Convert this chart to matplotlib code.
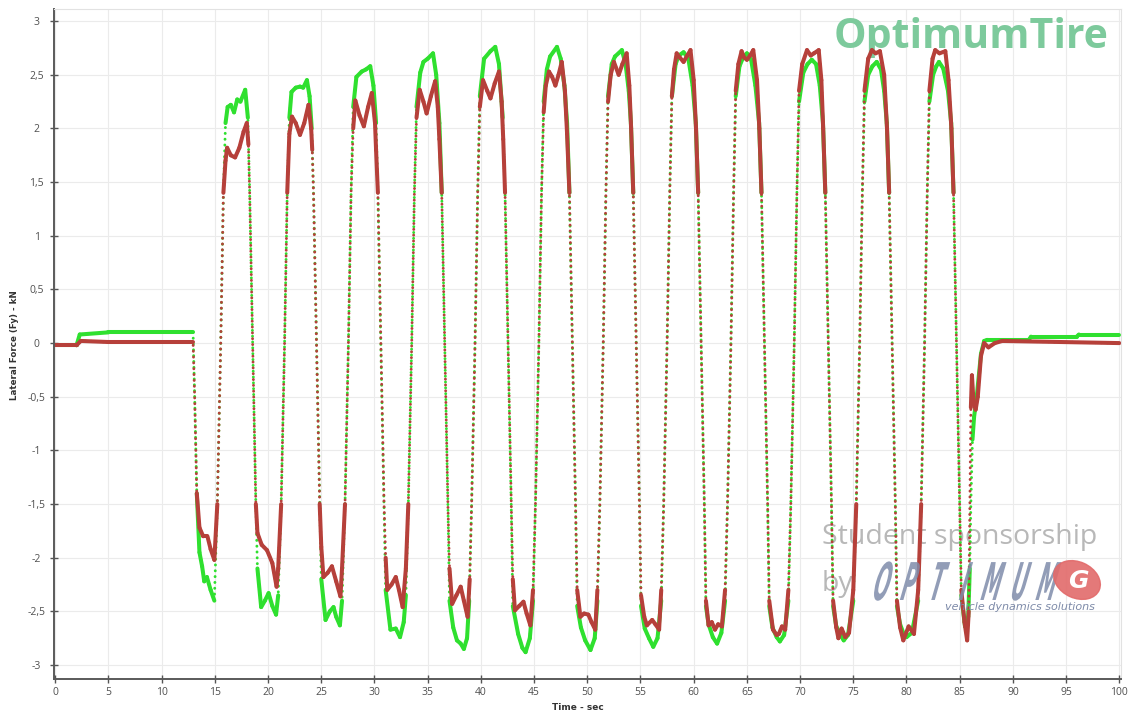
import numpy as np
import matplotlib
matplotlib.use("Agg")
import matplotlib.pyplot as plt
from matplotlib.collections import LineCollection
from matplotlib.patches import Ellipse, PathPatch
from matplotlib.textpath import TextPath
from matplotlib.font_manager import FontProperties
from matplotlib.transforms import Affine2D, IdentityTransform

# lateral force (time in s, force in kN)
green_t = [0, 2.0, 2.3, 5.0, 12.95, 13.1, 13.3,
           13.55, 13.8, 14.0, 14.25, 14.6, 14.95, 15.23, 15.55, 15.8,
           16.0, 16.2, 16.5, 16.8, 17.1, 17.4, 17.85, 18.1, 18.27, 18.55, 18.85,
           19.0, 19.35, 19.7, 20.05, 20.4, 20.75, 20.95, 21.23, 21.55, 21.8,
           22.0, 22.2, 22.6, 23.0, 23.3, 23.65, 23.9, 24.1, 24.27, 24.55, 24.85,
           25.0, 25.4, 25.8, 26.15, 26.4, 26.75, 26.95, 27.23, 27.55, 27.8,
           28.0, 28.3, 28.8, 29.2, 29.6, 29.9, 30.15, 30.32, 30.6, 30.9,
           31.05, 31.5, 32.0, 32.4, 32.75, 32.95, 33.18, 33.5, 33.75,
           33.95, 34.3, 34.6, 35.0, 35.5, 35.8, 36.1, 36.32, 36.6, 36.9,
           37.05, 37.4, 37.75, 38.1, 38.4, 38.7, 38.9, 39.13, 39.45, 39.7,
           39.9, 40.3, 40.9, 41.35, 41.7, 42.05, 42.27, 42.55, 42.85,
           43.0, 43.5, 43.9, 44.2, 44.6, 44.9, 45.13, 45.45, 45.7,
           45.9, 46.2, 46.5, 47.15, 47.5, 47.85, 48.1, 48.32, 48.6, 48.9,
           49.05, 49.4, 49.8, 50.3, 50.7, 50.95, 51.18, 51.5, 51.75,
           51.95, 52.3, 52.6, 53.25, 53.6, 53.9, 54.1, 54.32, 54.6, 54.9,
           55.05, 55.4, 55.8, 56.2, 56.6, 56.95, 57.18, 57.5, 57.75,
           57.95, 58.3, 58.6, 59.05, 59.5, 59.9, 60.2, 60.42, 60.7, 61.0,
           61.15, 61.4, 61.8, 62.2, 62.6, 62.95, 63.18, 63.5, 63.75,
           63.95, 64.3, 64.6, 65.0, 65.4, 65.8, 66.15, 66.37, 66.65, 66.95,
           67.1, 67.4, 67.8, 68.1, 68.5, 68.9, 69.13, 69.45, 69.7,
           69.9, 70.3, 70.7, 71.1, 71.5, 71.85, 72.15, 72.37, 72.65, 72.95,
           73.1, 73.4, 73.8, 74.1, 74.5, 75.0, 75.28, 75.6, 75.85,
           76.05, 76.4, 76.8, 77.2, 77.6, 77.9, 78.15, 78.37, 78.65, 78.95,
           79.1, 79.4, 79.7, 80.0, 80.5, 81.1, 81.38, 81.7, 81.95,
           82.15, 82.5, 82.8, 83.05, 83.45, 83.9, 84.2, 84.42, 84.7, 85.0,
           85.15, 85.5, 85.8, 85.95, 86.05, 86.2, 86.35, 86.6, 87.0, 87.3, 87.6,
           91.5, 91.7, 96.0, 96.2, 100]
green_f = [-0.02, -0.02, 0.08, 0.10, 0.10, -0.5, -1.4,
           -1.95, -2.08, -2.22, -2.18, -2.30, -2.40, -1.5, 0.0, 1.4,
           2.05, 2.2, 2.22, 2.15, 2.27, 2.25, 2.36, 2.1, 1.4, 0.0, -1.5,
           -2.1, -2.46, -2.40, -2.33, -2.45, -2.53, -2.35, -1.5, 0.0, 1.4,
           2.1, 2.34, 2.38, 2.39, 2.38, 2.45, 2.3, 2.0, 1.4, 0.0, -1.5,
           -2.2, -2.58, -2.50, -2.46, -2.55, -2.63, -2.4, -1.5, 0.0, 1.4,
           2.2, 2.48, 2.53, 2.55, 2.58, 2.4, 2.05, 1.4, 0.0, -1.5,
           -2.3, -2.67, -2.66, -2.74, -2.6, -2.35, -1.5, 0.0, 1.4,
           2.2, 2.52, 2.62, 2.65, 2.70, 2.5, 2.05, 1.4, 0.0, -1.5,
           -2.4, -2.65, -2.77, -2.80, -2.85, -2.75, -2.4, -1.5, 0.0, 1.4,
           2.3, 2.65, 2.72, 2.76, 2.6, 2.1, 1.4, 0.0, -1.5,
           -2.45, -2.71, -2.84, -2.88, -2.75, -2.4, -1.5, 0.0, 1.4,
           2.25, 2.55, 2.67, 2.76, 2.65, 2.4, 2.05, 1.4, 0.0, -1.5,
           -2.45, -2.65, -2.77, -2.86, -2.75, -2.4, -1.5, 0.0, 1.4,
           2.3, 2.6, 2.67, 2.73, 2.6, 2.35, 2.05, 1.4, 0.0, -1.5,
           -2.45, -2.66, -2.75, -2.83, -2.75, -2.4, -1.5, 0.0, 1.4,
           2.3, 2.6, 2.68, 2.71, 2.65, 2.4, 2.05, 1.4, 0.0, -1.5,
           -2.45, -2.62, -2.74, -2.80, -2.70, -2.4, -1.5, 0.0, 1.4,
           2.3, 2.58, 2.65, 2.70, 2.64, 2.4, 2.05, 1.4, 0.0, -1.5,
           -2.45, -2.65, -2.74, -2.78, -2.72, -2.4, -1.5, 0.0, 1.4,
           2.25, 2.52, 2.6, 2.64, 2.6, 2.4, 2.05, 1.4, 0.0, -1.5,
           -2.45, -2.64, -2.72, -2.77, -2.72, -2.4, -1.5, 0.0, 1.4,
           2.25, 2.5, 2.58, 2.62, 2.55, 2.35, 2.05, 1.4, 0.0, -1.5,
           -2.45, -2.62, -2.7, -2.74, -2.7, -2.4, -1.5, 0.0, 1.4,
           2.25, 2.5, 2.58, 2.62, 2.56, 2.35, 2.05, 1.4, 0.0, -1.5,
           -2.35, -2.64, -2.55, -2.1, -1.5, -0.9, -0.69, -0.5, -0.1, 0.02, 0.03,
           0.03, 0.06, 0.06, 0.08, 0.08]

red_t = [0, 2.0, 2.4, 5.0, 12.95, 13.1, 13.3,
         13.55, 13.9, 14.3, 14.6, 14.95, 15.23, 15.55, 15.8,
         16.0, 16.15, 16.5, 16.9, 17.3, 17.7, 18.0, 18.15, 18.27, 18.55, 18.85,
         19.0, 19.4, 19.9, 20.4, 20.8, 20.95, 21.23, 21.55, 21.8,
         22.0, 22.25, 22.6, 23.0, 23.4, 23.8, 24.05, 24.15, 24.27, 24.55, 24.85,
         25.0, 25.2, 25.6, 26.0, 26.4, 26.8, 26.95, 27.23, 27.55, 27.8,
         28.0, 28.2, 28.6, 29.0, 29.4, 29.75, 30.05, 30.15, 30.32, 30.6, 30.9,
         31.05, 31.2, 31.6, 32.0, 32.3, 32.65, 32.95, 33.18, 33.5, 33.75,
         33.95, 34.25, 34.6, 34.9, 35.3, 35.7, 35.95, 36.1, 36.32, 36.6, 36.9,
         37.05, 37.3, 37.7, 38.1, 38.4, 38.75, 38.95, 39.13, 39.45, 39.7,
         39.9, 40.2, 40.6, 40.9, 41.3, 41.7, 41.95, 42.1, 42.27, 42.55, 42.85,
         43.0, 43.2, 43.6, 44.0, 44.3, 44.65, 44.9, 45.13, 45.45, 45.7,
         45.9, 46.1, 46.4, 46.7, 47.0, 47.3, 47.6, 47.9, 48.1, 48.32, 48.6, 48.9,
         49.05, 49.35, 49.7, 50.1, 50.4, 50.75, 50.95, 51.18, 51.5, 51.75,
         51.95, 52.2, 52.5, 52.95, 53.3, 53.7, 53.95, 54.12, 54.32, 54.6, 54.9,
         55.05, 55.35, 55.6, 56.1, 56.4, 56.75, 56.95, 57.18, 57.5, 57.75,
         57.95, 58.15, 58.4, 58.7, 59.05, 59.4, 59.7, 60.0, 60.22, 60.42, 60.7, 61.0,
         61.15, 61.4, 61.7, 62.0, 62.3, 62.65, 62.95, 63.18, 63.5, 63.75,
         63.95, 64.2, 64.5, 64.75, 65.0, 65.3, 65.6, 65.95, 66.17, 66.37, 66.65, 66.95,
         67.1, 67.45, 67.8, 68.0, 68.3, 68.6, 68.9, 69.13, 69.45, 69.7,
         69.9, 70.2, 70.65, 71.0, 71.3, 71.75, 72.0, 72.17, 72.37, 72.65, 72.95,
         73.1, 73.4, 73.6, 73.9, 74.25, 74.6, 75.0, 75.28, 75.6, 75.85,
         76.05, 76.4, 76.75, 77.1, 77.5, 77.9, 78.17, 78.37, 78.65, 78.95,
         79.1, 79.4, 79.7, 80.2, 80.7, 81.1, 81.38, 81.7, 81.95,
         82.15, 82.45, 82.7, 83.1, 83.65, 83.95, 84.22, 84.42, 84.7, 85.0,
         85.15, 85.45, 85.7, 85.85, 85.95, 86.05, 86.15, 86.3, 86.5, 86.7, 87.0,
         87.3, 87.7, 88.3, 89.0, 100]
red_f = [-0.02, -0.02, 0.02, 0.01, 0.01, -0.5, -1.4,
         -1.72, -1.80, -1.80, -1.92, -2.02, -1.5, 0.0, 1.4,
         1.7, 1.82, 1.75, 1.73, 1.82, 1.97, 2.05, 1.85, 1.4, 0.0, -1.5,
         -1.77, -1.88, -1.93, -2.05, -2.27, -2.1, -1.5, 0.0, 1.4,
         1.95, 2.11, 2.05, 1.94, 2.05, 2.22, 2.0, 1.8, 1.4, 0.0, -1.5,
         -1.9, -2.18, -2.14, -2.08, -2.22, -2.36, -2.1, -1.5, 0.0, 1.4,
         2.0, 2.26, 2.12, 2.02, 2.2, 2.33, 2.05, 1.8, 1.4, 0.0, -1.5,
         -2.0, -2.30, -2.25, -2.18, -2.30, -2.46, -2.1, -1.5, 0.0, 1.4,
         2.1, 2.36, 2.25, 2.14, 2.3, 2.44, 2.2, 1.9, 1.4, 0.0, -1.5,
         -2.1, -2.43, -2.35, -2.27, -2.40, -2.55, -2.2, -1.5, 0.0, 1.4,
         2.2, 2.45, 2.35, 2.28, 2.42, 2.53, 2.25, 1.9, 1.4, 0.0, -1.5,
         -2.2, -2.49, -2.45, -2.41, -2.52, -2.63, -2.3, -1.5, 0.0, 1.4,
         2.15, 2.4, 2.53, 2.48, 2.40, 2.5, 2.62, 2.35, 1.95, 1.4, 0.0, -1.5,
         -2.3, -2.55, -2.52, -2.53, -2.6, -2.67, -2.3, -1.5, 0.0, 1.4,
         2.25, 2.5, 2.62, 2.50, 2.6, 2.70, 2.4, 2.0, 1.4, 0.0, -1.5,
         -2.35, -2.55, -2.63, -2.58, -2.62, -2.67, -2.3, -1.5, 0.0, 1.4,
         2.3, 2.55, 2.70, 2.66, 2.62, 2.68, 2.73, 2.45, 2.0, 1.4, 0.0, -1.5,
         -2.4, -2.63, -2.6, -2.67, -2.62, -2.64, -2.3, -1.5, 0.0, 1.4,
         2.35, 2.6, 2.72, 2.66, 2.64, 2.68, 2.73, 2.45, 2.0, 1.4, 0.0, -1.5,
         -2.4, -2.67, -2.72, -2.71, -2.64, -2.67, -2.3, -1.5, 0.0, 1.4,
         2.35, 2.6, 2.73, 2.68, 2.70, 2.73, 2.45, 2.0, 1.4, 0.0, -1.5,
         -2.4, -2.65, -2.75, -2.66, -2.74, -2.70, -2.3, -1.5, 0.0, 1.4,
         2.35, 2.65, 2.73, 2.70, 2.72, 2.5, 2.0, 1.4, 0.0, -1.5,
         -2.4, -2.65, -2.77, -2.64, -2.71, -2.3, -1.5, 0.0, 1.4,
         2.35, 2.65, 2.73, 2.70, 2.72, 2.45, 2.0, 1.4, 0.0, -1.5,
         -2.3, -2.6, -2.77, -2.5, -1.5, -0.6, -0.3, -0.55, -0.62, -0.5, -0.12,
         0.0, -0.04, 0.0, 0.02, 0.0]

ytick_vals = [-3, -2.5, -2, -1.5, -1, -0.5, 0, 0.5, 1, 1.5, 2, 2.5, 3]
xtick_vals = [0, 5, 10, 15, 20, 25, 30, 35, 40, 45, 50, 55, 60, 65, 70, 75, 80, 85, 90, 95, 100]

GREEN = '#2fe02f'
RED = '#b6403a'

W, H = 1134, 715
fig = plt.figure(figsize=(W / 100, H / 100), dpi=100)
fig.patch.set_facecolor('white')
ax = fig.add_axes([54 / W, 1 - 679 / H, (1121 - 54) / W, (679 - 9) / H])
ax.set_xlim(-0.12, 100.16)
ax.set_ylim(-3.13, 3.113)


def draw_series(t, f, color, offset):
    t = np.asarray(t, float)
    f = np.asarray(f, float)
    pts = np.column_stack([t, f])
    segs = np.stack([pts[:-1], pts[1:]], axis=1)
    slope = np.abs(np.diff(f) / np.diff(t))
    # slow parts look like a thick noisy band, fast swings like a dotted trace
    lc = LineCollection(segs[slope < 3.0], colors=color, linewidths=2.9,
                        capstyle='round', joinstyle='round', zorder=2)
    ax.add_collection(lc)
    ax.plot(t, f, color=color, lw=2.1, linestyle=(offset, (0.05, 1.95)),
            dash_capstyle='round', zorder=2)


draw_series(green_t, green_f, GREEN, 0)
draw_series(red_t, red_f, RED, 1.0)

# axes styling
ax.set_xticks(xtick_vals)
ax.set_yticks(ytick_vals)
ax.set_yticklabels([('%g' % v).replace('.', ',') for v in ytick_vals])
for lab in ax.get_yticklabels():
    lab.set_horizontalalignment('center')
ax.tick_params(axis='y', direction='inout', length=6, width=1, color='#555555',
               labelsize=7.5, labelcolor='#505050', pad=9.5)
ax.tick_params(axis='x', direction='inout', length=6, width=1, color='#555555',
               labelsize=7.5, labelcolor='#505050', pad=2.5)
for lab in ax.get_xticklabels() + ax.get_yticklabels():
    lab.set_family('Open Sans')
ax.grid(True, color='#ebebeb', lw=0.8, zorder=0)
ax.set_axisbelow(True)
for s in ['left', 'bottom']:
    ax.spines[s].set_color('#5a5a5a')
    ax.spines[s].set_linewidth(1.4)
for s in ['top', 'right']:
    ax.spines[s].set_color('#e2e2e2')
    ax.spines[s].set_linewidth(0.8)

fig.text(15 / W, 1 - 345 / H, 'Lateral Force (Fy) - kN', rotation=90, ha='center',
         va='center', fontsize=6.3, fontweight='bold', color='#333333', family='DejaVu Sans')
fig.text(578 / W, 1 - 708 / H, 'Time - sec', ha='center', va='center',
         fontsize=6.5, fontweight='bold', color='#333333', family='DejaVu Sans')

# watermarks
ax.text(1108 / W, 1 - 38 / H, 'OptimumTire', transform=fig.transFigure, ha='right',
        va='center', fontsize=29.5, fontweight='bold', color='#7dca9c', family='Open Sans',
        zorder=1)
ax.text(822 / W, 1 - 537 / H, 'Student sponsorship', transform=fig.transFigure, ha='left',
        va='center', fontsize=20.5, color='#b8b8b8', family='Open Sans', zorder=1)
ax.text(822 / W, 1 - 584 / H, 'by', transform=fig.transFigure, ha='left',
        va='center', fontsize=20.5, color='#b8b8b8', family='Open Sans', zorder=1)

# stretched italic letters of the sponsor logo, in pixel coordinates
logo_font = FontProperties(family='DejaVu Sans', weight='bold')
for i, ch in enumerate('OPTIMUM'):
    tp = TextPath((0, 0), ch, size=1, prop=logo_font)
    ext = tp.get_extents()
    cx = 878 + i * 27.5
    tr = (Affine2D().translate(-(ext.x0 + ext.x1) / 2, 0).scale(19, 52)
          .skew_deg(16, 0).translate(cx, H - 600))
    patch = PathPatch(tr.transform_path(tp), transform=IdentityTransform(),
                      facecolor='#7f8cab', edgecolor='none', alpha=0.85, zorder=1)
    patch.set_clip_on(False)
    fig.add_artist(patch)

logo = Ellipse((1077 / W, 1 - 580 / H), 44 / W, 40 / H, angle=20, transform=fig.transFigure,
               color='#e26a6a', alpha=0.9, zorder=1)
fig.add_artist(logo)
fig.text(1078 / W, 1 - 581 / H, 'G', ha='center', va='center',
         fontsize=18, fontstyle='italic', fontweight='bold', color='white')
fig.text(1095 / W, 1 - 607 / H, 'vehicle dynamics solutions',
         ha='right', va='center', fontsize=8, fontstyle='italic', color='#7d8aa8',
         family='DejaVu Sans')

fig.savefig('out.png', dpi=100, facecolor='white')
